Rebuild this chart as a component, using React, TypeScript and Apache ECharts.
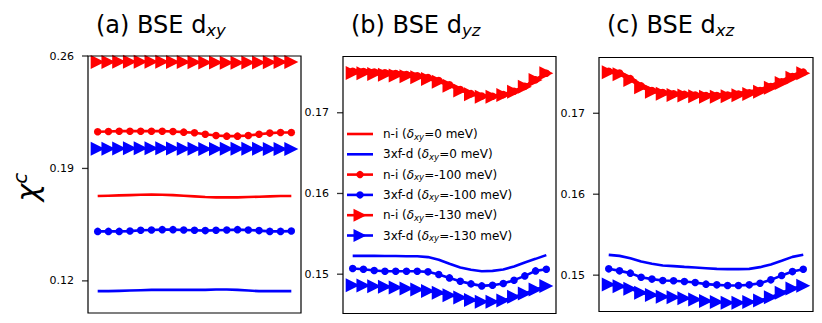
import React, { useEffect, useRef } from 'react';
import * as echarts from 'echarts';

// ---------- data ----------
const X = [0, 1, 2, 3, 4, 5, 6, 7, 8, 9, 10, 11, 12, 13, 14, 15, 16, 17, 18];
const X_MIN = -0.9;
const X_MAX = 18.9;

// panel (a) BSE d_xy
const A_NI_0 = [0.1728, 0.1730, 0.1732, 0.1734, 0.1736, 0.1738, 0.1736, 0.1734, 0.1730, 0.1726, 0.1722, 0.1720, 0.1720, 0.1720, 0.1722, 0.1724, 0.1726, 0.1728, 0.1728];
const A_3X_0 = [0.1136, 0.1136, 0.1138, 0.1140, 0.1142, 0.1144, 0.1144, 0.1144, 0.1144, 0.1144, 0.1144, 0.1146, 0.1146, 0.1144, 0.1140, 0.1136, 0.1136, 0.1136, 0.1136];
const A_NI_100 = [0.2128, 0.2130, 0.2132, 0.2132, 0.2132, 0.2132, 0.2132, 0.2130, 0.2126, 0.2122, 0.2113, 0.2105, 0.2101, 0.2101, 0.2105, 0.2113, 0.2120, 0.2124, 0.2124];
const A_3X_100 = [0.1508, 0.1508, 0.1508, 0.1510, 0.1515, 0.1517, 0.1519, 0.1519, 0.1517, 0.1515, 0.1513, 0.1515, 0.1517, 0.1519, 0.1517, 0.1513, 0.1508, 0.1508, 0.1510];
const A_NI_130 = [0.2563, 0.2563, 0.2564, 0.2564, 0.2564, 0.2564, 0.2564, 0.2563, 0.2562, 0.2561, 0.2560, 0.2559, 0.2558, 0.2558, 0.2559, 0.2560, 0.2561, 0.2562, 0.2562];
const A_3X_130 = [0.2022, 0.2023, 0.2024, 0.2025, 0.2025, 0.2025, 0.2025, 0.2024, 0.2023, 0.2022, 0.2021, 0.2021, 0.2022, 0.2023, 0.2023, 0.2022, 0.2021, 0.2021, 0.2021];

// panel (b) BSE d_yz
const B_NI_0 = [0.17530, 0.17528, 0.17522, 0.17514, 0.17505, 0.17492, 0.17476, 0.17450, 0.17410, 0.17355, 0.17295, 0.17245, 0.17215, 0.17212, 0.17230, 0.17270, 0.17330, 0.17410, 0.17490];
const B_3X_0 = [0.15227, 0.15227, 0.15227, 0.15226, 0.15225, 0.15223, 0.15222, 0.15212, 0.15180, 0.15130, 0.15083, 0.15054, 0.15037, 0.15041, 0.15058, 0.15095, 0.15145, 0.15190, 0.15236];
const B_NI_100 = [0.17515, 0.17512, 0.17505, 0.17496, 0.17486, 0.17473, 0.17459, 0.17436, 0.17400, 0.17347, 0.17287, 0.17237, 0.17207, 0.17205, 0.17225, 0.17266, 0.17327, 0.17408, 0.17489];
const B_3X_100 = [0.15070, 0.15062, 0.15046, 0.15037, 0.15037, 0.15037, 0.15037, 0.15029, 0.14996, 0.14954, 0.14913, 0.14880, 0.14855, 0.14864, 0.14884, 0.14926, 0.14979, 0.15041, 0.15062];
const B_NI_130 = [0.17492, 0.17488, 0.17480, 0.17472, 0.17463, 0.17451, 0.17439, 0.17418, 0.17385, 0.17335, 0.17277, 0.17228, 0.17199, 0.17199, 0.17219, 0.17261, 0.17323, 0.17405, 0.17488];
const B_3X_130 = [0.14864, 0.14860, 0.14851, 0.14843, 0.14835, 0.14822, 0.14810, 0.14793, 0.14769, 0.14740, 0.14712, 0.14680, 0.14660, 0.14660, 0.14675, 0.14719, 0.14760, 0.14810, 0.14855];

// panel (c) BSE d_xz
const C_NI_0 = [0.17535, 0.17512, 0.17445, 0.17355, 0.17298, 0.17272, 0.17256, 0.17248, 0.17240, 0.17235, 0.17235, 0.17240, 0.17252, 0.17268, 0.17297, 0.17346, 0.17404, 0.17470, 0.17522];
const C_3X_0 = [0.15251, 0.15238, 0.15210, 0.15168, 0.15140, 0.15119, 0.15111, 0.15102, 0.15094, 0.15086, 0.15078, 0.15074, 0.15074, 0.15078, 0.15099, 0.15131, 0.15177, 0.15226, 0.15251];
const C_NI_100 = [0.17520, 0.17496, 0.17428, 0.17338, 0.17282, 0.17257, 0.17241, 0.17233, 0.17225, 0.17220, 0.17220, 0.17225, 0.17237, 0.17253, 0.17282, 0.17331, 0.17389, 0.17455, 0.17508];
const C_3X_100 = [0.15078, 0.15053, 0.15025, 0.14975, 0.14951, 0.14934, 0.14930, 0.14921, 0.14909, 0.14889, 0.14880, 0.14872, 0.14872, 0.14880, 0.14901, 0.14942, 0.14995, 0.15044, 0.15074];
const C_NI_130 = [0.17506, 0.17481, 0.17411, 0.17321, 0.17267, 0.17242, 0.17226, 0.17218, 0.17210, 0.17205, 0.17205, 0.17210, 0.17222, 0.17238, 0.17267, 0.17316, 0.17374, 0.17440, 0.17493];
const C_3X_130 = [0.14886, 0.14862, 0.14832, 0.14782, 0.14754, 0.14734, 0.14726, 0.14714, 0.14700, 0.14680, 0.14668, 0.14660, 0.14660, 0.14668, 0.14688, 0.14728, 0.14782, 0.14835, 0.14868];

const PANEL_TITLES = ['(a) BSE d', '(b) BSE d', '(c) BSE d'];
const PANEL_SUBS = ['xy', 'yz', 'xz'];
const Y_TICKS_A = [0.12, 0.19, 0.26];
const Y_TICKS_B = [0.15, 0.16, 0.17];
const Y_TICKS_C = [0.15, 0.16, 0.17];
const Y_RANGE_A = [0.10, 0.26];
const Y_RANGE_B = [0.14513, 0.17697];
const Y_RANGE_C = [0.14551, 0.17689];

const LEG_PREFIX = ['n-i', '3xf-d', 'n-i', '3xf-d', 'n-i', '3xf-d'];
const LEG_DELTA = ['0', '0', '-100', '-100', '-130', '-130'];

// ---------- styles / layout ----------
const RED = '#ff0000';
const BLUE = '#0000ff';
const FONT = 'DejaVu Sans';
const TRI = 'path://M0,0L10,5L0,10Z';
const KINDS = ['line', 'line', 'circle', 'circle', 'tri', 'tri'];
const COLORS = [RED, BLUE, RED, BLUE, RED, BLUE];
const GRIDS = [
  { left: 88, top: 56, width: 213, height: 257 },
  { left: 343, top: 56.5, width: 213, height: 257 },
  { left: 599, top: 57.5, width: 214, height: 254 },
];
const LW = 2.6;
const TICK_LEN = 6;

export default function App() {
  const ref = useRef<HTMLDivElement>(null);

  useEffect(() => {
    document.body.style.margin = '0';
    if (!ref.current) return;
    const chart = echarts.init(ref.current, null, { renderer: 'svg' });

    const panelData = [
      [A_NI_0, A_3X_0, A_NI_100, A_3X_100, A_NI_130, A_3X_130],
      [B_NI_0, B_3X_0, B_NI_100, B_3X_100, B_NI_130, B_3X_130],
      [C_NI_0, C_3X_0, C_NI_100, C_3X_100, C_NI_130, C_3X_130],
    ];
    const ticks = [Y_TICKS_A, Y_TICKS_B, Y_TICKS_C];
    const ranges = [Y_RANGE_A, Y_RANGE_B, Y_RANGE_C];

    const series: any[] = [];
    panelData.forEach((arrs, p) => {
      arrs.forEach((vals, k) => {
        const kind = KINDS[k];
        series.push({
          type: 'line',
          name: `${LEG_PREFIX[k]} ${LEG_DELTA[k]}`,
          xAxisIndex: p,
          yAxisIndex: p,
          data: X.map((x, i) => [x, vals[i]]),
          symbol: kind === 'line' ? 'none' : kind === 'circle' ? 'circle' : TRI,
          symbolSize: kind === 'circle' ? 7.5 : 14,
          showSymbol: kind !== 'line',
          lineStyle: { color: COLORS[k], width: LW },
          itemStyle: { color: COLORS[k] },
          silent: true,
        });
      });
      // y-axis tick marks, placed by the axis scale at the left edge
      series.push({
        type: 'scatter',
        xAxisIndex: p,
        yAxisIndex: p,
        data: ticks[p].map((v) => [X_MIN, v]),
        symbol: 'rect',
        symbolSize: [TICK_LEN, 1.3],
        symbolOffset: [-TICK_LEN / 2, 0],
        itemStyle: { color: '#000' },
        clip: false,
        silent: true,
        z: 10,
      });
    });

    const graphic: any[] = [];
    // frames
    GRIDS.forEach((g) => {
      graphic.push({
        type: 'rect',
        z: 100,
        silent: true,
        shape: { x: g.left, y: g.top, width: g.width, height: g.height },
        style: { fill: 'none', stroke: '#000', lineWidth: 1.2 },
      });
    });
    // titles
    GRIDS.forEach((g, p) => {
      graphic.push({
        type: 'text',
        z: 101,
        x: g.left + 8,
        y: 25,
        style: {
          text: `{n|${PANEL_TITLES[p]}}{s|${PANEL_SUBS[p]}}`,
          align: 'left',
          verticalAlign: 'middle',
          fill: '#000',
          rich: {
            n: { fontSize: 24, fontFamily: FONT, lineHeight: 28, fill: '#000' },
            s: { fontSize: 16.5, fontFamily: FONT, fontStyle: 'italic', lineHeight: 21, verticalAlign: 'bottom', fill: '#000' },
          },
        },
      });
    });
    // y label chi^c
    graphic.push({
      type: 'text',
      z: 101,
      x: 27,
      y: 187,
      rotation: Math.PI / 2,
      style: {
        text: '{c|χ}{s|c}',
        align: 'center',
        verticalAlign: 'middle',
        rich: {
          c: { fontSize: 30, fontFamily: FONT, fontStyle: 'italic', lineHeight: 34, fill: '#000' },
          s: { fontSize: 20, fontFamily: FONT, fontStyle: 'italic', lineHeight: 20, verticalAlign: 'top', fill: '#000' },
        },
      },
    });
    // legend (inside panel b)
    const LX = 347, LY = 134, LSTEP = 20.3;
    LEG_PREFIX.forEach((pre, k) => {
      const cy = LY + LSTEP * k;
      const col = COLORS[k];
      graphic.push({
        type: 'line', z: 102, silent: true,
        shape: { x1: LX, y1: cy, x2: LX + 26, y2: cy },
        style: { stroke: col, lineWidth: LW },
      });
      if (KINDS[k] === 'circle') {
        graphic.push({
          type: 'circle', z: 103, silent: true,
          shape: { cx: LX + 13, cy, r: 3.7 },
          style: { fill: col },
        });
      } else if (KINDS[k] === 'tri') {
        graphic.push({
          type: 'polygon', z: 103, silent: true,
          shape: { points: [[LX + 6.5, cy - 6.5], [LX + 19.5, cy], [LX + 6.5, cy + 6.5]] },
          style: { fill: col },
        });
      }
      graphic.push({
        type: 'text', z: 103, silent: true,
        x: LX + 36, y: cy,
        style: {
          text: `{n|${pre} (}{d|δ}{s|xy}{n|=${LEG_DELTA[k]} meV)}`,
          align: 'left',
          verticalAlign: 'middle',
          rich: {
            n: { fontSize: 12, fontFamily: FONT, lineHeight: 14, fill: '#000' },
            d: { fontSize: 12, fontFamily: FONT, fontStyle: 'italic', lineHeight: 14, fill: '#000' },
            s: { fontSize: 8.5, fontFamily: FONT, fontStyle: 'italic', lineHeight: 9, verticalAlign: 'bottom', fill: '#000' },
          },
        },
      });
    });

    chart.setOption({
      animation: false,
      backgroundColor: '#fff',
      grid: GRIDS.map((g) => ({ ...g, show: false, containLabel: false })),
      xAxis: GRIDS.map((_, p) => ({
        type: 'value',
        gridIndex: p,
        min: X_MIN,
        max: X_MAX,
        show: false,
      })),
      yAxis: GRIDS.map((_, p) => ({
        type: 'value',
        gridIndex: p,
        position: 'left',
        min: ranges[p][0],
        max: ranges[p][1],
        axisLine: { show: false, onZero: false },
        splitLine: { show: false },
        axisTick: { show: false },
        axisLabel: {
          show: true,
          inside: false,
          customValues: ticks[p],
          margin: 14,
          fontSize: 11,
          fontFamily: FONT,
          color: '#000',
          formatter: (v: number) => v.toFixed(2),
        },
      })),
      series,
      graphic,
    });

    return () => chart.dispose();
  }, []);

  return (
    <div
      ref={ref}
      style={{ position: 'fixed', left: 0, top: 0, width: 822, height: 323, background: '#fff' }}
    />
  );
}
